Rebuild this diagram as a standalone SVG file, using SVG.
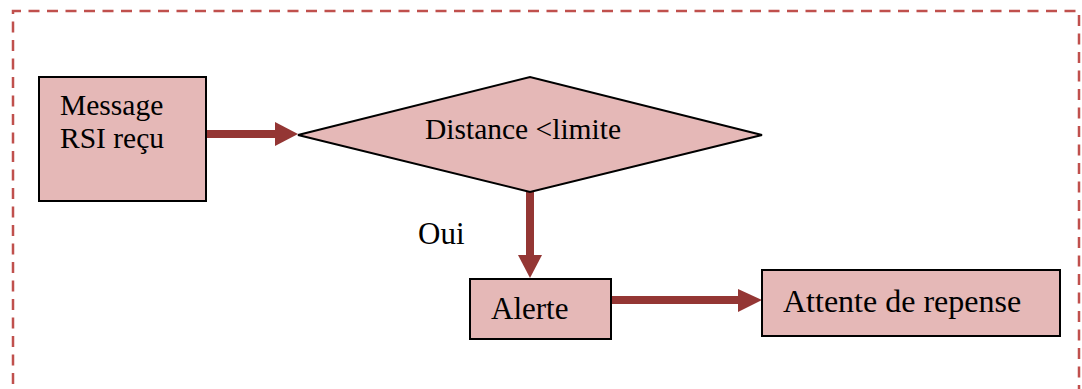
<svg xmlns="http://www.w3.org/2000/svg" width="1082" height="389" viewBox="0 0 1082 389">
<style>
.node{fill:#e5b8b7;stroke:#000;stroke-width:2}
.t{font-family:"Liberation Serif","Times New Roman",serif;font-size:29.5px;fill:#000}
.b{font-size:31px}
.c{stroke:#943634;stroke-width:8;fill:none}
.h{fill:#943634}
</style>
<rect width="1082" height="389" fill="#fff"/>
<path d="M13,389 V11 H1079 V389" fill="none" stroke="#c0504d" stroke-width="2.5" stroke-dasharray="11,7.5" stroke-dashoffset="-5"/>
<g id="connectors">
<line class="c" x1="206" y1="134" x2="277" y2="134"/>
<polygon class="h" points="275,122 298,134 275,146"/>
<line class="c" x1="530" y1="192" x2="530" y2="257"/>
<polygon class="h" points="518,255 530,278 542,255"/>
<line class="c" x1="611" y1="300" x2="740" y2="300"/>
<polygon class="h" points="738,289 762,300 738,312"/>
</g>
<g id="n1">
<rect class="node" x="39" y="77" width="167" height="124"/>
<text class="t" x="60" y="115">Message</text>
<text class="t" x="60" y="148">RSI reçu</text>
</g>
<g id="n2">
<polygon class="node" points="298,135 530,77 762,135 530,192"/>
<text class="t" x="425" y="139">Distance &lt;limite</text>
</g>
<g id="lbl">
<text class="t b" x="418" y="244">Oui</text>
</g>
<g id="n3">
<rect class="node" x="470" y="279" width="141" height="60"/>
<text class="t b" x="491" y="319">Alerte</text>
</g>
<g id="n4">
<rect class="node" x="762" y="270" width="298" height="66"/>
<text class="t" x="783" y="312" style="font-size:32px">Attente de repense</text>
</g>
</svg>
